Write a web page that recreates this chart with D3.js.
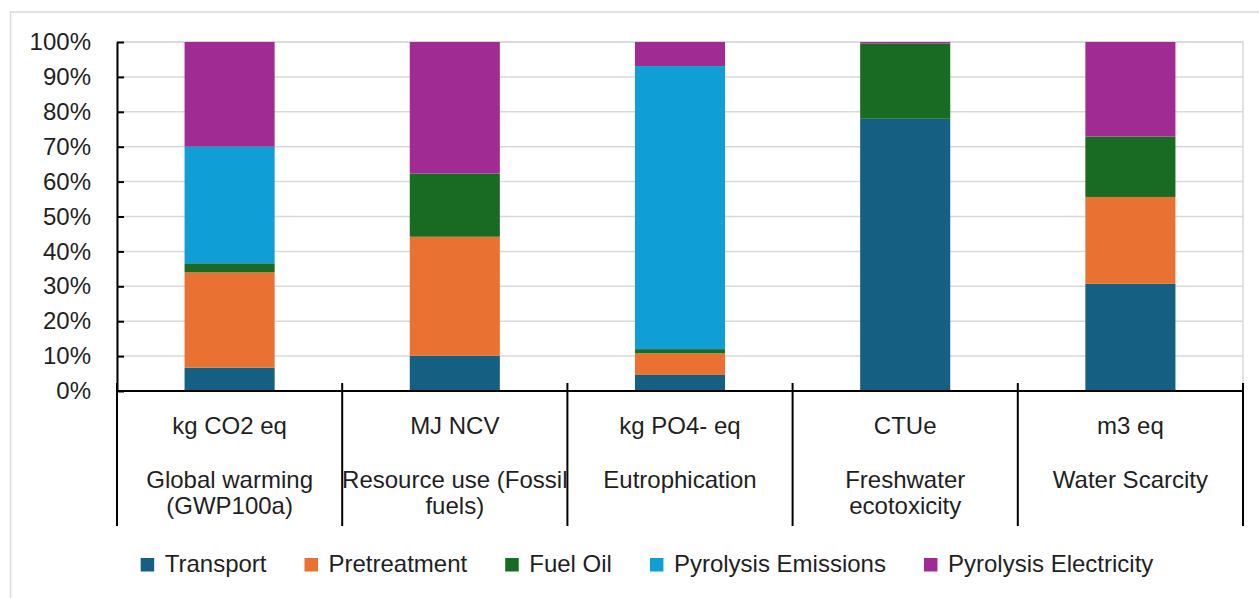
<!DOCTYPE html>
<html>
<head>
<meta charset="utf-8">
<script src="https://cdn.jsdelivr.net/npm/d3@7"></script>
<style>
  body { margin: 0; background: #ffffff; }
  text { font-family: "Liberation Sans", Arial, sans-serif; fill: #1f1f1f; }
</style>
</head>
<body>
<svg id="chart" width="1259" height="598"></svg>
<script>
// Contribution of each process stage to the impact categories (% of total)
const units = ["kg CO2 eq", "MJ NCV", "kg PO4- eq", "CTUe", "m3 eq"];
const impactNames = [
  ["Global warming", "(GWP100a)"],
  ["Resource use (Fossil", "fuels)"],
  ["Eutrophication"],
  ["Freshwater", "ecotoxicity"],
  ["Water Scarcity"]
];
const seriesNames = ["Transport", "Pretreatment", "Fuel Oil", "Pyrolysis Emissions", "Pyrolysis Electricity"];
const transport = [6.7, 10.1, 4.6, 78.0, 30.7];
const pretreatment = [27.3, 34.1, 6.2, 0.0, 24.9];
const fuelOil = [2.6, 18.1, 1.2, 21.6, 17.3];
const pyrolysisEmissions = [33.4, 0.0, 81.1, 0.0, 0.0];
const pyrolysisElectricity = [30.0, 37.7, 6.9, 0.4, 27.1];
const seriesColors = ["#156082", "#E97132", "#196B24", "#0F9ED5", "#A02B93"];
const yTicks = [0, 0.1, 0.2, 0.3, 0.4, 0.5, 0.6, 0.7, 0.8, 0.9, 1.0];

const seriesValues = [transport, pretreatment, fuelOil, pyrolysisEmissions, pyrolysisElectricity];
const rows = units.map((u, i) => {
  const r = { unit: u };
  seriesNames.forEach((s, j) => { r[s] = seriesValues[j][i]; });
  return r;
});

const svg = d3.select("#chart");
const plot = { left: 117, right: 1243, top: 42, bottom: 391 };

// chart frame
svg.append("rect")
  .attr("x", 10.5).attr("y", 12)
  .attr("width", 1300).attr("height", 700)
  .attr("fill", "#ffffff")
  .attr("stroke", "#d9d9d9").attr("stroke-width", 1.5);

const x = d3.scaleBand()
  .domain(units)
  .range([plot.left, plot.right])
  .paddingInner(0.6)
  .paddingOuter(0.3);

const y = d3.scaleLinear().domain([0, 1]).range([plot.bottom, plot.top]);
const color = d3.scaleOrdinal().domain(seriesNames).range(seriesColors);

// plot-area outline and horizontal gridlines
svg.append("rect")
  .attr("x", plot.left).attr("y", plot.top)
  .attr("width", plot.right - plot.left).attr("height", plot.bottom - plot.top)
  .attr("fill", "none").attr("stroke", "#d9d9d9").attr("stroke-width", 1.5);

svg.append("g")
  .selectAll("line")
  .data(yTicks)
  .join("line")
  .attr("x1", plot.left).attr("x2", plot.right)
  .attr("y1", d => y(d)).attr("y2", d => y(d))
  .attr("stroke", "#d9d9d9").attr("stroke-width", 1.5);

// stacked bars (100% stacked)
const stacked = d3.stack()
  .keys(seriesNames)
  .offset(d3.stackOffsetExpand)(rows);

svg.append("g")
  .selectAll("g")
  .data(stacked)
  .join("g")
  .attr("fill", d => color(d.key))
  .selectAll("rect")
  .data(d => d)
  .join("rect")
  .attr("x", d => x(d.data.unit))
  .attr("width", x.bandwidth())
  .attr("y", d => y(d[1]))
  .attr("height", d => y(d[0]) - y(d[1]));

// y axis with inward ticks
const yAxis = svg.append("g")
  .attr("transform", `translate(${plot.left},0)`)
  .call(d3.axisLeft(y)
    .tickValues(yTicks)
    .tickFormat(d3.format(".0%"))
    .tickSizeInner(-7)
    .tickSizeOuter(0)
    .tickPadding(26));
yAxis.select(".domain").attr("stroke", "#000").attr("stroke-width", 2);
yAxis.selectAll(".tick line").attr("stroke", "#000").attr("stroke-width", 2);
yAxis.selectAll(".tick text")
  .attr("font-size", 24)
  .attr("font-family", "Liberation Sans, Arial, sans-serif")
  .attr("fill", "#1f1f1f");

// x axis baseline and category dividers
svg.append("line")
  .attr("x1", plot.left - 1).attr("x2", plot.right + 1)
  .attr("y1", plot.bottom).attr("y2", plot.bottom)
  .attr("stroke", "#000").attr("stroke-width", 2);

const boundaries = d3.range(units.length + 1).map(i => plot.left + i * x.step());
svg.append("g")
  .selectAll("line")
  .data(boundaries)
  .join("line")
  .attr("x1", d => d).attr("x2", d => d)
  .attr("y1", plot.bottom - 8).attr("y2", 526)
  .attr("stroke", "#000").attr("stroke-width", 2);

// two-level category labels: unit, then impact category name
const labels = svg.append("g")
  .selectAll("g")
  .data(units)
  .join("g")
  .attr("transform", d => `translate(${x(d) + x.bandwidth() / 2},0)`);

labels.append("text")
  .attr("y", 434)
  .attr("text-anchor", "middle")
  .attr("font-size", 24)
  .text(d => d);

labels.each(function (d, i) {
  d3.select(this).selectAll("text.impact")
    .data(impactNames[i])
    .join("text")
    .attr("class", "impact")
    .attr("y", (t, k) => 488 + k * 26)
    .attr("text-anchor", "middle")
    .attr("font-size", 24)
    .text(t => t);
});

// legend
const legend = svg.append("g");
const items = legend.selectAll("g")
  .data(seriesNames)
  .join("g");
items.append("rect")
  .attr("width", 13.5).attr("height", 13.5)
  .attr("y", 558)
  .attr("fill", d => color(d));
items.append("text")
  .attr("x", 24)
  .attr("y", 572)
  .attr("font-size", 24)
  .text(d => d);

let cursor = 0;
const gap = 38;
items.each(function () {
  const g = d3.select(this);
  const w = 24 + g.select("text").node().getComputedTextLength();
  g.attr("transform", `translate(${cursor},0)`);
  cursor += w + gap;
});
const legendWidth = cursor - gap;
legend.attr("transform", `translate(${647 - legendWidth / 2},0)`);
</script>
</body>
</html>
